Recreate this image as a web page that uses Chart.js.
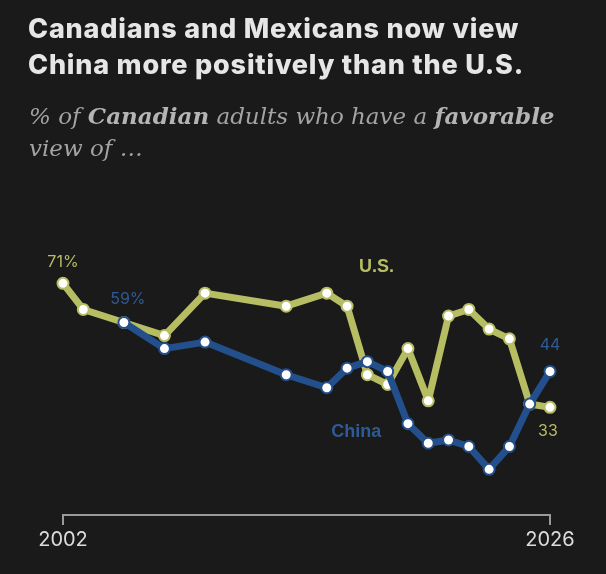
<!DOCTYPE html>
<html>
<head>
<meta charset="utf-8">
<script src="https://cdn.jsdelivr.net/npm/chart.js@4/dist/chart.umd.min.js"></script>
<style>
  html, body { margin: 0; padding: 0; background: #1a1a1a; }
  #wrap { position: relative; width: 606px; height: 574px; overflow: hidden; background: #1a1a1a; }
  #title { position: absolute; left: 28px; top: 11px; margin: 0; font-family: Inter, "Liberation Sans", Arial, sans-serif; font-weight: 800; font-size: 27px; line-height: 36px; color: #e6e6e6; white-space: nowrap; letter-spacing: 0.8px; }
  #subtitle { position: absolute; left: 29px; top: 100px; margin: 0; font-family: "DejaVu Serif", Georgia, serif; font-style: italic; font-size: 23px; line-height: 32px; color: #a3a3a3; white-space: nowrap; letter-spacing: 0px; }
  #subtitle b { color: #b4b4b4; }
  #c { position: absolute; left: 0; top: 0; }
</style>
</head>
<body>
<div id="wrap">
  <canvas id="c" width="606" height="574"></canvas>
  <div id="title">Canadians and Mexicans now view<br>China more positively than the U.S.</div>
  <div id="subtitle">% of <b>Canadian</b> adults who have a <b>favorable</b><br>view of …</div>
</div>
<script>
const usYears    = [2002, 2003, 2005, 2007, 2009, 2013, 2015, 2016, 2017, 2018, 2019, 2020, 2021, 2022, 2023, 2024, 2025, 2026];
const usValues   = [71,   63,   59,   55,   68,   64,   68,   64,   43,   40,   51,   35,   61,   63,   57,   54,   34,   33];
const chinaYears = [2005, 2007, 2009, 2013, 2015, 2016, 2017, 2018, 2019, 2020, 2021, 2022, 2023, 2024, 2025, 2026];
const chinaValues= [59,   51,   53,   43,   39,   45,   47,   44,   28,   22,   23,   21,   14,   21,   34,   44];
const tickYears  = [2002, 2026];

const US_COLOR = '#b7bd63';
const CN_COLOR = '#23508c';
const CN_TEXT  = '#2e5b97';

const toXY = (xs, ys) => xs.map((x, i) => ({ x: x, y: ys[i] }));

const labelPlugin = {
  id: 'labels',
  afterDatasetsDraw(chart) {
    const ctx = chart.ctx;
    const xs = chart.scales.x, ys = chart.scales.y;
    const put = (text, xv, yv, dx, dy, color, font) => {
      ctx.save();
      ctx.font = font;
      ctx.fillStyle = color;
      ctx.textAlign = 'center';
      ctx.textBaseline = 'middle';
      ctx.fillText(text, xs.getPixelForValue(xv) + dx, ys.getPixelForValue(yv) + dy);
      ctx.restore();
    };
    const numFont = '16px Inter, "Liberation Sans", sans-serif';
    const nameFont = 'bold 18px "Liberation Sans", Arial, sans-serif';
    put('71%', usYears[0], usValues[0], 0, -21, US_COLOR, numFont);
    put('59%', chinaYears[0], chinaValues[0], 4, -23, CN_TEXT, numFont);
    put('44', chinaYears[chinaYears.length - 1], chinaValues[chinaValues.length - 1], 0, -26, CN_TEXT, numFont);
    put('33', usYears[usYears.length - 1], usValues[usValues.length - 1], -2, 24, US_COLOR, numFont);
    put('U.S.', 2017.45, 76.2, 0, 1, US_COLOR, nameFont);
    put('China', 2016.45, 25.6, 0, 1, CN_TEXT, nameFont);
  }
};

const lineStyle = (color) => ({
  borderColor: color,
  borderWidth: 7,
  borderJoinStyle: 'round',
  borderCapStyle: 'round',
  pointRadius: 5.5,
  pointBorderWidth: 2,
  pointBackgroundColor: '#ffffff',
  pointBorderColor: color,
  tension: 0,
  clip: false
});

new Chart(document.getElementById('c'), {
  type: 'line',
  data: {
    datasets: [
      Object.assign({ label: 'China', data: toXY(chinaYears, chinaValues) }, lineStyle(CN_COLOR)),
      Object.assign({ label: 'U.S.', data: toXY(usYears, usValues) }, lineStyle(US_COLOR))
    ]
  },
  options: {
    responsive: false,
    animation: false,
    devicePixelRatio: 1,
    layout: { padding: { left: 63, right: 56, top: 254, bottom: 19 } },
    plugins: { legend: { display: false }, tooltip: { enabled: false }, title: { display: false } },
    scales: {
      x: {
        type: 'linear',
        min: 2002,
        max: 2026,
        afterBuildTicks: (axis) => { axis.ticks = tickYears.map(v => ({ value: v })); },
        ticks: {
          callback: (v) => String(v),
          color: '#dcdcdc',
          font: { family: 'Inter, "Liberation Sans", sans-serif', size: 20 },
          padding: 3,
          maxRotation: 0,
          autoSkip: false
        },
        grid: { display: true, drawOnChartArea: false, drawTicks: true, tickLength: 10, color: '#9a9a9a', lineWidth: 2 },
        border: { display: true, color: '#9a9a9a', width: 2 }
      },
      y: {
        display: false,
        min: 0,
        max: 80
      }
    }
  },
  plugins: [labelPlugin]
});
</script>
</body>
</html>
